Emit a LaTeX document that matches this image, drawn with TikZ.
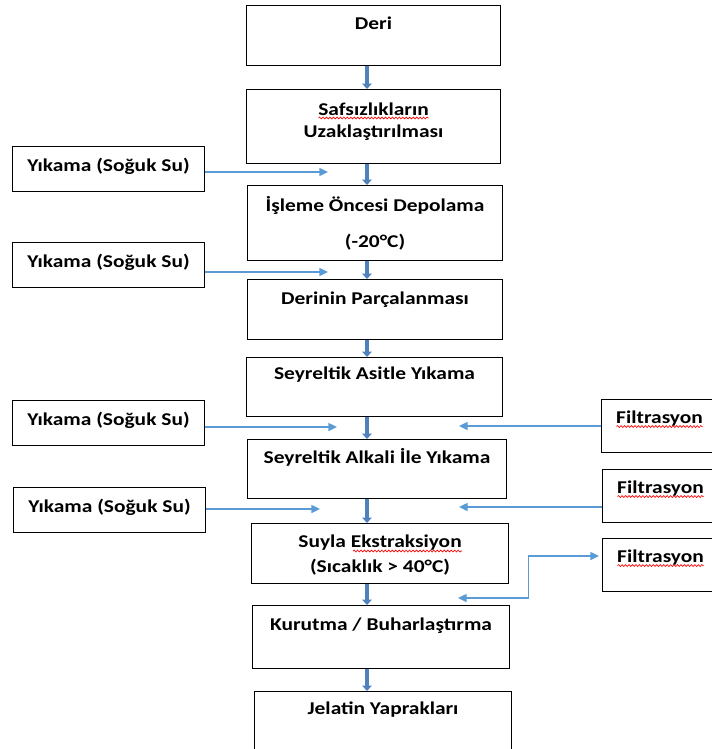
\documentclass[tikz,border=0pt]{standalone}
\usepackage{fontspec}
\setmainfont{Carlito}[FakeStretch=1.19]
\usepackage{tikz}
\usetikzlibrary{arrows.meta,calc,decorations.pathmorphing}
\usepackage{xcolor}
\definecolor{flowblue}{RGB}{79,129,189}
\definecolor{feedblue}{RGB}{91,155,213}

\begin{document}
\begin{tikzpicture}[x=0.75pt, y=-0.75pt,
        every node/.style={font=\fontsize{13.5}{16.5}\selectfont\bfseries},
        stepbox/.style={draw, line width=0.8pt, anchor=north west, inner xsep=0pt, inner ysep=0pt, align=center},
        sidebox/.style={stepbox, minimum width=144pt, text height=18.5pt, text depth=15.25pt},
        filterbox/.style={stepbox, minimum width=87pt, text height=18pt, text depth=21.75pt},
        flow/.style={flowblue, line width=3pt, -{Triangle[width=7pt,length=4pt]}},
        feed/.style={feedblue, line width=1pt, >={Triangle[width=6pt,length=6.5pt]}, ->},
        spell/.style={red, line width=0.5pt, decorate, decoration={snake, amplitude=0.7pt, segment length=2.6pt}}]
        \useasboundingbox (0,0) rectangle (712,749);
        % main process chain
        \node[stepbox, minimum width=190.5pt, text height=18pt, text depth=27pt] (deri) at (246,5) {Deri};
        \node[stepbox, minimum width=190.5pt, text height=36pt, text depth=19.5pt] (safsiz) at (246,89) {Safsızlıkların\\Uzaklaştırılması};
        \node[stepbox, minimum width=191.25pt, text height=46.5pt, text depth=9.75pt] (depo) at (247,185) {İşleme Öncesi Depolama\\[10.5pt](-20°C)};
        \node[stepbox, minimum width=191.25pt, text height=18.75pt, text depth=26.25pt] (parca) at (247,279) {Derinin Parçalanması};
        \node[stepbox, minimum width=192pt, text height=16.5pt, text depth=27.75pt] (asit) at (246,357) {Seyreltik Asitle Yıkama};
        \node[stepbox, minimum width=194.25pt, text height=18pt, text depth=26.25pt] (alkali) at (247,439) {Seyreltik Alkali İle Yıkama};
        \node[stepbox, minimum width=192.75pt, text height=36.75pt, text depth=8.25pt] (ekstr) at (251,523) {Suyla Ekstraksiyon\\[2.25pt](Sıcaklık > 40°C)};
        \node[stepbox, minimum width=192.75pt, text height=18.75pt, text depth=28.5pt] (kurut) at (252,605) {Kurutma / Buharlaştırma};
        \node[stepbox, minimum width=192.75pt, text height=17.25pt, text depth=35.25pt] (jelatin) at (254,691) {Jelatin Yaprakları};
        % washing and filtration
        \node[sidebox] (wash1) at (12,146) {Yıkama (Soğuk Su)};
        \node[sidebox] (wash2) at (12,242) {Yıkama (Soğuk Su)};
        \node[sidebox] (wash3) at (12,400) {Yıkama (Soğuk Su)};
        \node[sidebox] (wash4) at (13,487) {Yıkama (Soğuk Su)};
        \node[filterbox] (filt1) at (601,399) {Filtrasyon};
        \node[filterbox] (filt2) at (602,469) {Filtrasyon};
        \node[filterbox] (filt3) at (602,538) {Filtrasyon};
        % spell-check marks
        \draw[spell] ($(safsiz.north)+(-55,29)$) -- ++(110,0);
        \draw[spell] ($(ekstr.north)+(-27,28)$) -- ++(109,0);
        \foreach \n in {1,2,3}
          \draw[spell] ($(filt\n.base)+(-43,3)$) -- ++(86,0);
        \coordinate (spine) at (367,0);
        \coordinate (in1) at (328,172);
        \coordinate (in2) at (328,272);
        \coordinate (in3) at (337,427);
        \coordinate (in4) at (320,509);
        \coordinate (out1) at (459,426);
        \coordinate (out2) at (459,507);
        \coordinate (back) at (458,598);
        \coordinate (up3) at (599,556);
        \foreach \a/\b in {deri/safsiz, safsiz/depo, depo/parca, parca/asit, asit/alkali, alkali/ekstr, ekstr/kurut, kurut/jelatin}
          \draw[flow] (\a.south -| spine) -- (\b.north -| spine);
        \foreach \n in {1,...,4}
          \draw[feed] (wash\n.east |- in\n) -- (in\n);
        \draw[feed] (filt1.west |- out1) -- (out1);
        \draw[feed] (filt2.west |- out2) -- (out2);
        \draw[feed, <->] (back) -| ($(back)!0.5!(up3)$) |- (up3);
      \end{tikzpicture}
\end{document}
